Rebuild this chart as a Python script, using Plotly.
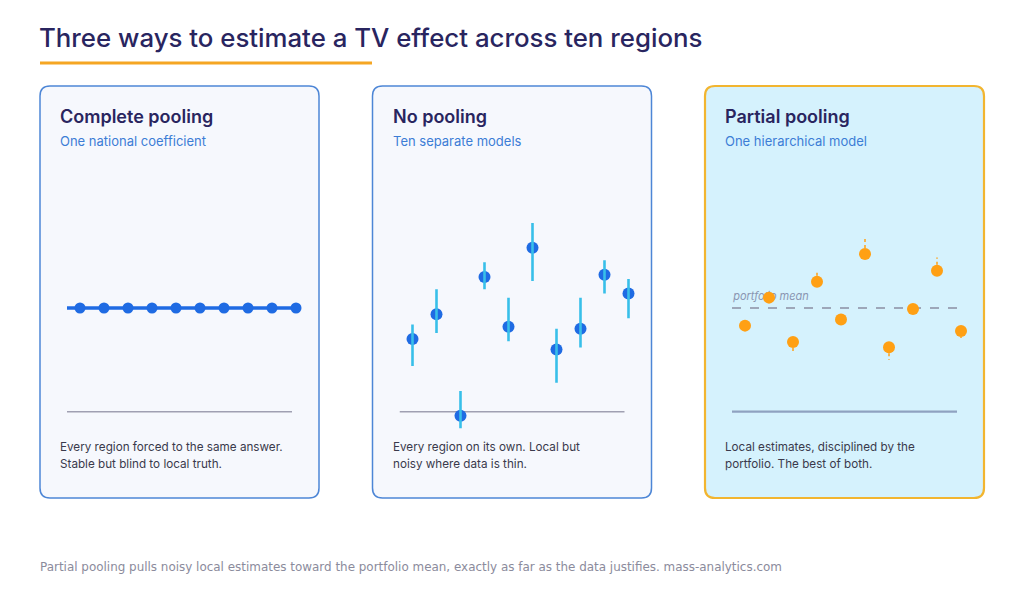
import plotly.graph_objects as go

W, H = 1024, 598

# ---------------- data ----------------
regions = [1, 2, 3, 4, 5, 6, 7, 8, 9, 10]
national_coef = 0.50
complete_est = [0.50, 0.50, 0.50, 0.50, 0.50, 0.50, 0.50, 0.50, 0.50, 0.50]

nopool_est = [0.35, 0.47, -0.02, 0.65, 0.41, 0.79, 0.30, 0.40, 0.66, 0.57]
nopool_hi = [0.42, 0.59, 0.10, 0.72, 0.55, 0.91, 0.40, 0.55, 0.73, 0.64]
nopool_lo = [0.22, 0.38, -0.08, 0.59, 0.34, 0.63, 0.14, 0.31, 0.57, 0.45]

portfolio_mean = 0.50
partial_est = [0.415, 0.55, 0.336, 0.627, 0.444, 0.76, 0.311, 0.495, 0.68, 0.389]
partial_from = [0.40, 0.565, 0.283, 0.670, 0.43, 0.847, 0.249, 0.49, 0.743, 0.355]

title_text = "Three ways to estimate a TV effect across ten regions"
panel_titles = ["Complete pooling", "No pooling", "Partial pooling"]
panel_subtitles = ["One national coefficient", "Ten separate models", "One hierarchical model"]
panel_desc = [
    ["Every region forced to the same answer.", "Stable but blind to local truth."],
    ["Every region on its own. Local but", "noisy where data is thin."],
    ["Local estimates, disciplined by the", "portfolio. The best of both."],
]
footer_text = ("Partial pooling pulls noisy local estimates toward the portfolio mean, "
               "exactly as far as the data justifies. mass-analytics.com")

# ---------------- styles ----------------
NAVY = "#29255f"
BLUE = "#1f6be3"
CYAN = "#38bfe9"
ORANGE = "#ffa014"
SUB_BLUE = "#3c7dd6"
TEXT = "#3a3a4c"
FONT = "Inter"

panel_left = [40, 372.5, 705]
panel_w = 279
panel_top, panel_bot = 86, 498
panel_fill = ["#f6f8fd", "#f6f8fd", "#d5f2fd"]
panel_line = ["#4d86d6", "#4d86d6", "#f2b530"]
panel_lw = [1.5, 1.5, 2.2]
base_col = ["#a0a0b2", "#a0a0b2", "#8fa2c0"]

STEP = 24.0             # px between regions
FIRST = 40              # px from panel edge to first region
AX0, AX1 = 27, 264      # axis domain, px from panel edge
BASE0, BASE1 = 27, 252  # baseline extent, px from panel edge


def px(x):
    return x / W


def py(y):
    return 1 - y / H


def rounded(x0, y0, x1, y1, r=10):
    X0, X1 = px(x0), px(x1)
    T, B = py(y0), py(y1)
    rx, ry = r / W, r / H
    return (f"M {X0+rx},{T} L {X1-rx},{T} Q {X1},{T} {X1},{T-ry} "
            f"L {X1},{B+ry} Q {X1},{B} {X1-rx},{B} L {X0+rx},{B} "
            f"Q {X0},{B} {X0},{B+ry} L {X0},{T-ry} Q {X0},{T} {X0+rx},{T} Z")


def px_to_idx(p):
    return regions[0] + (p - FIRST) / STEP


fig = go.Figure()

x_range = [px_to_idx(AX0), px_to_idx(AX1)]
base_x = [px_to_idx(BASE0), px_to_idx(BASE1)]
y_range = [-0.1, 1.0]
k = 207.4
y_dom = [py(411.7 + 0.1 * k), py(411.7 - 1.0 * k)]

layout_axes = {}
for i in range(3):
    sx = "" if i == 0 else str(i + 1)
    layout_axes[f"xaxis{sx}"] = dict(domain=[px(panel_left[i] + AX0), px(panel_left[i] + AX1)],
                                     range=x_range, visible=False, fixedrange=True,
                                     anchor=f"y{sx}")
    layout_axes[f"yaxis{sx}"] = dict(domain=y_dom, range=y_range, visible=False,
                                     fixedrange=True, anchor=f"x{sx}")

# ---- panel 1: complete pooling ----
fig.add_trace(go.Scatter(x=[base_x[0]] + regions, y=[national_coef] + complete_est,
                         mode="lines", line=dict(color=BLUE, width=3.5),
                         xaxis="x", yaxis="y", cliponaxis=False, hoverinfo="skip"))
fig.add_trace(go.Scatter(x=regions, y=complete_est, mode="markers",
                         marker=dict(color=BLUE, size=11),
                         xaxis="x", yaxis="y", cliponaxis=False))

# ---- panel 2: no pooling ----
fig.add_trace(go.Scatter(x=regions, y=nopool_est, mode="markers",
                         marker=dict(color=BLUE, size=12),
                         xaxis="x2", yaxis="y2", cliponaxis=False))
ex, ey = [], []
for r, lo, hi in zip(regions, nopool_lo, nopool_hi):
    ex += [r, r, None]
    ey += [lo, hi, None]
fig.add_trace(go.Scatter(x=ex, y=ey, mode="lines", line=dict(color=CYAN, width=2.6),
                         xaxis="x2", yaxis="y2", cliponaxis=False, hoverinfo="skip"))

# ---- panel 3: partial pooling ----
fig.add_trace(go.Scatter(x=[base_x[0] + 0.05], y=[portfolio_mean + 0.05], mode="text",
                         text=["<i>portfolio mean</i>"], textposition="middle right",
                         textfont=dict(family=FONT, size=11, color="#8a96b2"),
                         xaxis="x3", yaxis="y3", cliponaxis=False, hoverinfo="skip"))
dx, dy = [], []
for r, a, b in zip(regions, partial_est, partial_from):
    dx += [r, r, None]
    dy += [a, b, None]
fig.add_trace(go.Scatter(x=dx, y=dy, mode="lines",
                         line=dict(color=ORANGE, width=1.5, dash="dot"),
                         xaxis="x3", yaxis="y3", cliponaxis=False, hoverinfo="skip"))
fig.add_trace(go.Scatter(x=regions, y=partial_est, mode="markers",
                         marker=dict(color=ORANGE, size=12),
                         xaxis="x3", yaxis="y3", cliponaxis=False))

# ---------------- shapes ----------------
shapes = []
shapes.append(dict(type="line", xref="paper", yref="paper", x0=px(40), x1=px(372),
                   y0=py(63), y1=py(63), line=dict(color="#f5a623", width=3)))
for i in range(3):
    shapes.append(dict(type="path", xref="paper", yref="paper", layer="below",
                       path=rounded(panel_left[i], panel_top, panel_left[i] + panel_w, panel_bot),
                       fillcolor=panel_fill[i],
                       line=dict(color=panel_line[i], width=panel_lw[i])))
for i in range(3):
    sx = "" if i == 0 else str(i + 1)
    shapes.append(dict(type="line", xref=f"x{sx}", yref=f"y{sx}", layer="below",
                       x0=base_x[0], x1=base_x[1], y0=0, y1=0,
                       line=dict(color=base_col[i], width=1.6 if i < 2 else 2.2)))
shapes.append(dict(type="line", xref="x3", yref="y3", layer="below",
                   x0=base_x[0], x1=base_x[1], y0=portfolio_mean, y1=portfolio_mean,
                   line=dict(color="#8a8fa2", width=1.5, dash="dash")))

# ---------------- annotations ----------------
ann = []
ann.append(dict(x=px(37), y=py(38), xref="paper", yref="paper", text=title_text,
                showarrow=False, xanchor="left", yanchor="middle",
                font=dict(family=FONT, size=25.8, color=NAVY, weight=500)))
for i in range(3):
    lx = px(panel_left[i] + 18)
    ann.append(dict(x=lx, y=py(117), xref="paper", yref="paper", text=panel_titles[i],
                    showarrow=False, xanchor="left", yanchor="middle",
                    font=dict(family=FONT, size=18, color=NAVY, weight=600)))
    ann.append(dict(x=lx, y=py(141), xref="paper", yref="paper", text=panel_subtitles[i],
                    showarrow=False, xanchor="left", yanchor="middle",
                    font=dict(family=FONT, size=13, color=SUB_BLUE)))
    for j, line in enumerate(panel_desc[i]):
        ann.append(dict(x=lx, y=py(447 + 17 * j), xref="paper", yref="paper", text=line,
                        showarrow=False, xanchor="left", yanchor="middle",
                        font=dict(family=FONT, size=11.7, color=TEXT)))
ann.append(dict(x=px(38), y=py(567), xref="paper", yref="paper", text=footer_text,
                showarrow=False, xanchor="left", yanchor="middle",
                font=dict(family="DejaVu Sans", size=11.95, color="#8b8b9c")))

fig.update_layout(width=W, height=H, margin=dict(l=0, r=0, t=0, b=0),
                  paper_bgcolor="white", plot_bgcolor="rgba(0,0,0,0)",
                  showlegend=False, shapes=shapes, annotations=ann, **layout_axes)

fig.write_html("out.html", config={"displayModeBar": False},
               post_script="document.body.style.margin='0';")
